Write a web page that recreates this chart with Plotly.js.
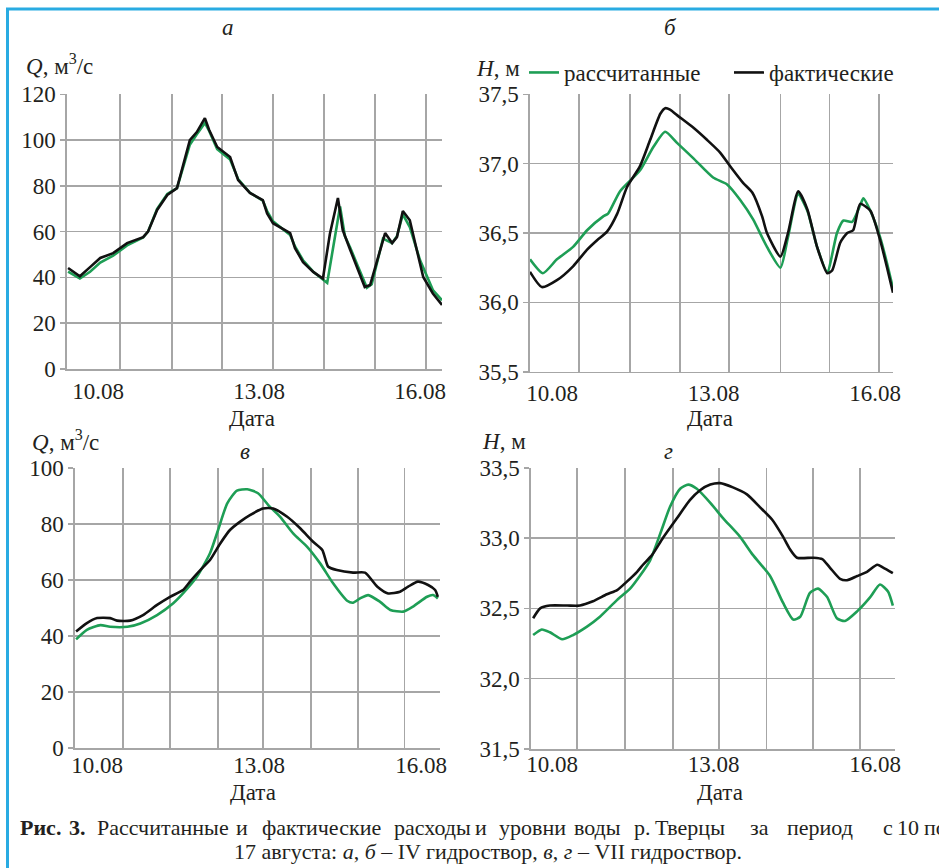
<!DOCTYPE html>
<html>
<head>
<meta charset="utf-8">
<script src="https://cdn.plot.ly/plotly-3.0.1.min.js"></script>
<style>
html,body{margin:0;padding:0;background:#fff;}
#chart{width:939px;height:868px;}
</style>
</head>
<body>
<div id="chart"></div>
<script>
// ---------- DATA (days of August) ----------
// Panel а: discharge Q, m3/s, IV section
const aFactT = [9.44,9.66,9.85,10.04,10.28,10.54,10.84,10.93,11.10,11.29,11.47,11.57,11.71,11.84,11.99,12.07,12.22,12.46,12.61,12.83,13.07,13.15,13.26,13.58,13.67,13.82,14.01,14.19,14.32,14.47,14.56,14.70,14.84,14.97,15.07,15.20,15.35,15.48,15.57,15.68,15.81,15.94,16.06,16.24,16.41];
const aFactQ = [44.1,40.5,44.5,48.5,50.6,55,57.6,60,69.5,76,79,88,100,103.5,109.6,104.4,97,92.6,82.5,76.9,73.8,68,63.7,59.4,52.8,46.7,42.4,39.5,59,74.7,60.7,52,44,35.8,36.7,47.6,59.4,55,57.6,69,65,52,40.2,33,28];
const aCalcT = [9.44,9.66,9.85,10.04,10.28,10.54,10.84,10.93,11.10,11.29,11.47,11.57,11.71,11.84,11.99,12.07,12.22,12.46,12.61,12.83,13.07,13.15,13.26,13.58,13.67,13.82,14.01,14.27,14.51,14.60,14.70,14.84,15.01,15.10,15.31,15.48,15.57,15.68,15.81,16.00,16.24,16.41];
const aCalcQ = [42.5,39.5,42.5,46.5,49.5,54,57.5,60,70,76.5,79,87,98,102.5,107.5,104,96,91.5,83,77,73.5,69,64.5,58.5,53.5,47.5,42.5,37.6,71,58,53,45,35.5,37,57,55,58,67.5,62,47.6,34.5,30];

// Panel б: water level H, m, IV section
const bFactT = [9.59,9.81,10.09,10.39,10.65,10.84,11.02,11.21,11.39,11.63,11.82,12.01,12.10,12.19,12.32,12.62,12.88,13.12,13.31,13.55,13.72,13.90,13.99,14.24,14.38,14.57,14.74,14.92,15.11,15.20,15.35,15.48,15.59,15.72,15.91,16.09,16.22,16.33];
const bFactH = [36.22,36.11,36.16,36.26,36.38,36.45,36.51,36.64,36.83,36.98,37.17,37.36,37.40,37.39,37.35,37.26,37.17,37.08,36.98,36.86,36.79,36.62,36.50,36.33,36.50,36.80,36.67,36.40,36.21,36.23,36.43,36.50,36.52,36.71,36.66,36.45,36.25,36.07];
const bCalcT = [9.59,9.83,10.09,10.39,10.65,10.95,11.04,11.26,11.63,11.88,12.10,12.32,12.62,12.99,13.25,13.49,13.73,13.99,14.24,14.38,14.57,14.74,14.92,15.11,15.29,15.41,15.57,15.72,15.78,15.91,16.09,16.22,16.33];
const bCalcH = [36.31,36.21,36.31,36.40,36.52,36.62,36.64,36.80,36.95,37.12,37.23,37.15,37.04,36.90,36.85,36.74,36.60,36.40,36.25,36.47,36.78,36.66,36.40,36.22,36.50,36.59,36.58,36.70,36.75,36.66,36.47,36.28,36.10];

// Panel в: discharge Q, m3/s, VII section
const cFactT = [9.61,9.81,10.00,10.24,10.37,10.61,10.85,11.11,11.35,11.59,11.72,11.91,12.09,12.28,12.46,12.65,12.83,13.07,13.26,13.52,13.76,14.00,14.17,14.28,14.44,14.74,14.96,15.19,15.39,15.61,15.76,15.94,16.13,16.26,16.31];
const cFactQ = [41.6,44.6,46.4,46.4,45.5,45.5,47.5,51.1,54,56.4,59.4,63.5,67.1,73,77.8,80.8,83.1,85.5,85.5,82.5,78.4,73.6,70.7,64.7,63.5,62.6,62.6,57.6,55.2,55.8,57.6,59.4,58.2,56.4,54];
const cCalcT = [9.61,9.81,10.06,10.24,10.56,10.80,11.11,11.41,11.59,11.85,12.09,12.24,12.41,12.59,12.78,12.98,13.17,13.39,13.63,13.89,14.13,14.37,14.63,14.74,14.87,15.02,15.24,15.43,15.67,15.85,16.11,16.22,16.31];
const cCalcQ = [38.8,42.2,43.9,43.3,43.3,44.5,47.5,51.7,55.2,61.2,69.5,77.8,87.3,91.8,92.3,90.9,86.7,82.5,76.6,71.8,65.9,58.8,52.6,51.9,53.4,54.6,52.2,49.3,48.7,50.5,54,54.6,53.4];

// Panel г: water level H, m, VII section
const dFactT = [9.65,9.78,9.96,10.28,10.52,10.76,11.02,11.21,11.39,11.58,11.69,11.86,12.06,12.32,12.56,12.75,12.94,13.12,13.36,13.62,13.86,14.09,14.29,14.42,14.55,14.85,15.02,15.16,15.35,15.48,15.67,15.85,16.04,16.15,16.33];
const dFactH = [32.43,32.50,32.52,32.52,32.52,32.55,32.60,32.63,32.69,32.76,32.81,32.88,33.00,33.14,33.27,33.34,33.38,33.39,33.36,33.31,33.22,33.13,33.01,32.92,32.86,32.86,32.85,32.79,32.71,32.70,32.73,32.76,32.81,32.79,32.75];
const dCalcT = [9.65,9.81,9.96,10.19,10.39,10.65,10.89,11.21,11.45,11.63,11.82,12.01,12.19,12.38,12.53,12.69,12.94,13.18,13.49,13.73,14.05,14.29,14.48,14.61,14.79,14.94,15.11,15.29,15.44,15.67,15.91,16.09,16.24,16.33];
const dCalcH = [32.31,32.35,32.33,32.28,32.31,32.37,32.44,32.56,32.64,32.73,32.84,33.03,33.22,33.35,33.38,33.35,33.25,33.14,33.01,32.88,32.73,32.54,32.42,32.44,32.61,32.64,32.58,32.43,32.41,32.48,32.58,32.67,32.62,32.52];

// Tick labels
const xTickVals = [10, 13, 16];
const xTickText = ['10.08', '13.08', '16.08'];
const qTickVals = [0, 20, 40, 60, 80, 100, 120];
const qTickText = ['0', '20', '40', '60', '80', '100', '120'];
const qTickValsC = [0, 20, 40, 60, 80, 100];
const qTickTextC = ['0', '20', '40', '60', '80', '100'];
const hbTickVals = [35.5, 36.0, 36.5, 37.0, 37.5];
const hbTickText = ['35,5', '36,0', '36,5', '37,0', '37,5'];
const hdTickVals = [31.5, 32.0, 32.5, 33.0, 33.5];
const hdTickText = ['31,5', '32,0', '32,5', '33,0', '33,5'];
const seriesNames = ['рассчитанные', 'фактические'];

// ---------- STYLE / LAYOUT ----------
const W = 939, H = 868;
const px = x => x / W;
const py = y => 1 - y / H;
const FONT = 'Liberation Serif';
const TXT = '#231f20';
const GRID = '#a6a6a6';
const GREEN = '#1e9e55';
const BLACK = '#111111';

function tr(x, y, color, name, xa, ya, legend, shape) {
  return {
    x: x, y: y, type: 'scatter', mode: 'lines', name: name,
    xaxis: xa, yaxis: ya, showlegend: legend, hoverinfo: 'skip',
    line: {color: color, width: 2.6, shape: shape || 'linear', smoothing: 0.6}
  };
}

const data = [
  tr(aCalcT, aCalcQ, GREEN, seriesNames[0], 'x', 'y', false),
  tr(aFactT, aFactQ, BLACK, seriesNames[1], 'x', 'y', false),
  tr(bCalcT, bCalcH, GREEN, seriesNames[0], 'x2', 'y2', true, 'spline'),
  tr(bFactT, bFactH, BLACK, seriesNames[1], 'x2', 'y2', true, 'spline'),
  tr(cCalcT, cCalcQ, GREEN, seriesNames[0], 'x3', 'y3', false, 'spline'),
  tr(cFactT, cFactQ, BLACK, seriesNames[1], 'x3', 'y3', false, 'spline'),
  tr(dCalcT, dCalcH, GREEN, seriesNames[0], 'x4', 'y4', false, 'spline'),
  tr(dFactT, dFactH, BLACK, seriesNames[1], 'x4', 'y4', false, 'spline')
];

function xax(domain, range, grids, anchor, standoff) {
  return {
    domain: domain, range: range, anchor: anchor, automargin: false,
    tickmode: 'array', tickvals: xTickVals, ticktext: xTickText,
    showgrid: false, zeroline: false, showline: true, linecolor: GRID, linewidth: 1.6,
    ticks: '', ticklabelstandoff: standoff,
    tickfont: {family: FONT, size: 23, color: TXT},
    minor: {tickmode: 'array', tickvals: grids, showgrid: true, gridcolor: GRID, gridwidth: 1.6, ticks: ''},
    fixedrange: true
  };
}
function yax(domain, range, vals, text, anchor) {
  return {
    domain: domain, range: range, anchor: anchor, automargin: false,
    tickmode: 'array', tickvals: vals, ticktext: text,
    showgrid: true, gridcolor: GRID, gridwidth: 1.6, zeroline: false,
    showline: true, linecolor: GRID, linewidth: 1.6,
    ticks: 'outside', ticklen: 5, tickcolor: GRID, tickwidth: 1.6,
    tickfont: {family: FONT, size: 23, color: TXT},
    fixedrange: true
  };
}

const layout = {
  width: W, height: H,
  margin: {l: 0, r: 0, t: 0, b: 0, pad: 0, autoexpand: false},
  paper_bgcolor: '#ffffff', plot_bgcolor: 'rgba(0,0,0,0)',
  font: {family: FONT, color: TXT, size: 23},
  xaxis: xax([px(67), px(442)], [9.42, 16.41], [10.41, 11.38, 12.31, 13.26, 14.21, 15.16, 16.11], 'y', 1),
  yaxis: yax([py(369), py(94.3)], [0, 120], qTickVals, qTickText, 'x'),
  xaxis2: xax([px(530), px(893)], [9.59, 16.33], [10.50, 11.45, 12.38, 13.29, 14.24, 15.15, 16.07], 'y2', 0),
  yaxis2: yax([py(371.7), py(94.3)], [35.5, 37.5], hbTickVals, hbTickText, 'x2'),
  xaxis3: xax([px(75), px(440)], [9.59, 16.35], [10.48, 11.35, 12.24, 13.07, 13.96, 14.83, 15.69], 'y3', -5),
  yaxis3: yax([py(748.3), py(467.7)], [0, 100], qTickValsC, qTickTextC, 'x3'),
  xaxis4: xax([px(531), px(895)], [9.61, 16.37], [10.46, 11.36, 12.25, 13.10, 13.98, 14.85, 15.72], 'y4', -6),
  yaxis4: yax([py(749), py(467.7)], [31.5, 33.5], hdTickVals, hdTickText, 'x4'),
  showlegend: true,
  legend: {
    orientation: 'h', x: px(524), y: py(51), xanchor: 'left', yanchor: 'top',
    font: {family: FONT, size: 23, color: TXT}, bgcolor: 'rgba(0,0,0,0)',
    entrywidth: 160, entrywidthmode: 'pixels',
    itemwidth: 30, tracegroupgap: 0, itemclick: false, itemdoubleclick: false
  },
  shapes: [
    {type: 'line', xref: 'paper', yref: 'paper', x0: px(7.5), x1: px(7.5), y0: py(8), y1: py(880), line: {color: '#29abe2', width: 3}},
    {type: 'line', xref: 'paper', yref: 'paper', x0: px(6), x1: px(960), y0: py(9), y1: py(9), line: {color: '#29abe2', width: 3}}
  ],
  annotations: []
};

function ann(text, x, y, opts) {
  return Object.assign({
    text: text, xref: 'paper', yref: 'paper', x: px(x), y: py(y),
    xanchor: 'center', yanchor: 'middle', showarrow: false,
    font: {family: FONT, size: 23, color: TXT}
  }, opts || {});
}
layout.annotations.push(
  ann('<i>а</i>', 228, 27),
  ann('<i>б</i>', 670, 27),
  ann('<i>в</i>', 245, 452),
  ann('<i>г</i>', 668, 452),
  ann('<i>Q</i>, м<sup>3</sup>/с', 24, 64, {xanchor: 'left'}),
  ann('<i>H</i>, м', 474, 68, {xanchor: 'left'}),
  ann('<i>Q</i>, м<sup>3</sup>/с', 30, 440, {xanchor: 'left'}),
  ann('<i>H</i>, м', 480, 442, {xanchor: 'left'}),
  ann('Дата', 252, 418),
  ann('Дата', 710, 418),
  ann('Дата', 253, 792),
  ann('Дата', 720, 792)
);

// Caption (justified first line: words placed at their positions)
const captionWords = [['<b>Рис.</b>', 18], ['<b>3.</b>', 67], ['Рассчитанные', 95], ['и', 234], ['фактические', 260],
  ['расходы', 392], ['и', 473], ['уровни', 497], ['воды', 572], ['р.', 632], ['Тверцы', 653], ['за', 748],
  ['период', 785], ['с', 881], ['10', 895], ['по', 922]];
captionWords.forEach(w => layout.annotations.push(
  ann(w[0], w[1], 827, {xanchor: 'left', font: {family: FONT, size: 22, color: TXT}})));
layout.annotations.push(
  ann('17 августа: <i>а</i>, <i>б</i> – IV гидроствор, <i>в</i>, <i>г</i> – VII гидроствор.', 488, 851,
      {font: {family: FONT, size: 22, color: TXT}})
);

Plotly.newPlot('chart', data, layout, {displayModeBar: false, staticPlot: true});
</script>
</body>
</html>
